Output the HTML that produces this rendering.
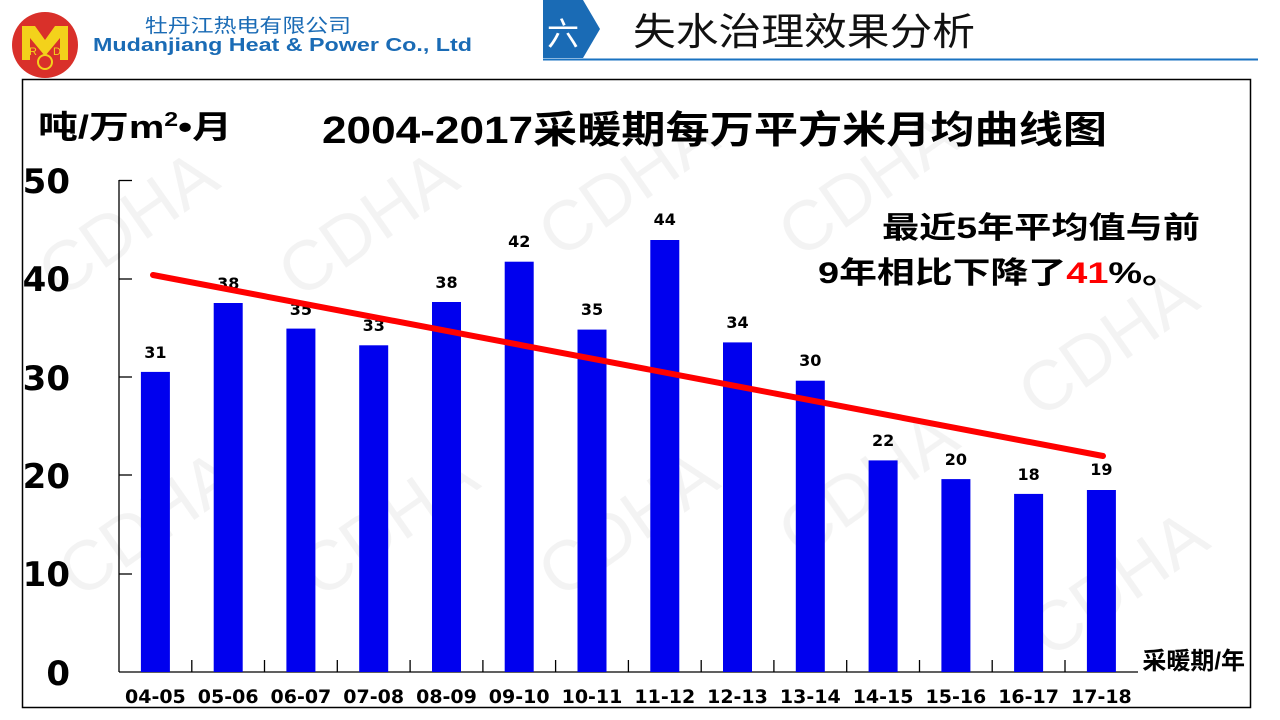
<!DOCTYPE html>
<html><head><meta charset="utf-8"><style>
html,body{margin:0;padding:0;background:#fff;width:1280px;height:720px;overflow:hidden}
svg{display:block}
</style></head><body>
<svg width="1280" height="720" viewBox="0 0 1280 720" xmlns="http://www.w3.org/2000/svg" font-family="'Liberation Sans','Noto Sans CJK SC',sans-serif">
<g fill="#ececec" font-size="70" opacity="0.6">
<text x="60" y="300" transform="rotate(-35 60 300)">CDHA</text>
<text x="300" y="300" transform="rotate(-35 300 300)">CDHA</text>
<text x="560" y="260" transform="rotate(-35 560 260)">CDHA</text>
<text x="800" y="260" transform="rotate(-35 800 260)">CDHA</text>
<text x="1040" y="420" transform="rotate(-35 1040 420)">CDHA</text>
<text x="80" y="600" transform="rotate(-35 80 600)">CDHA</text>
<text x="320" y="600" transform="rotate(-35 320 600)">CDHA</text>
<text x="560" y="600" transform="rotate(-35 560 600)">CDHA</text>
<text x="800" y="560" transform="rotate(-35 800 560)">CDHA</text>
<text x="1050" y="660" transform="rotate(-35 1050 660)">CDHA</text>
</g>
<!-- logo -->
<circle cx="45" cy="45" r="33" fill="#d9302a"/>
<path d="M22 60 L22 26 L35 26 L45 40 L55 26 L68 26 L68 60 L60 60 L60 38 L45 56 L30 38 L30 60 Z" fill="#f3d21b"/>
<text x="29" y="55" font-size="11" fill="#f3d21b">R</text>
<text x="53" y="55" font-size="11" fill="#f3d21b">D</text>
<circle cx="45" cy="62" r="7" fill="none" stroke="#f3d21b" stroke-width="2"/>
<text x="145" y="32" font-size="19" fill="#1a6bb5" textLength="206" lengthAdjust="spacingAndGlyphs" font-family="'Noto Sans CJK SC',sans-serif">牡丹江热电有限公司</text>
<text x="93" y="51" font-size="18" font-weight="bold" fill="#1a6bb5" textLength="379" lengthAdjust="spacingAndGlyphs">Mudanjiang Heat &amp; Power  Co., Ltd</text>
<!-- section header -->
<path d="M543 0 L583 0 L600 29 L583 58 L543 58 Z" fill="#1a6bb5"/>
<text x="547" y="45" font-size="32" fill="#fff" font-family="'Noto Sans CJK SC',sans-serif">六</text>
<line x1="543" y1="59.5" x2="1258" y2="59.5" stroke="#1a72c0" stroke-width="2"/>
<text x="633" y="45" font-size="38" fill="#111" textLength="342" lengthAdjust="spacingAndGlyphs" font-family="'Noto Sans CJK SC',sans-serif">失水治理效果分析</text>
<!-- frame -->
<rect x="22.5" y="79.5" width="1228" height="628" fill="none" stroke="#000" stroke-width="1.5"/>
<text x="38" y="138" font-size="32" font-weight="bold" fill="#000" textLength="194" lengthAdjust="spacingAndGlyphs">吨/万m<tspan font-size="20" dy="-12">2</tspan><tspan dy="12">•月</tspan></text>
<text x="322" y="143" font-size="38" font-weight="bold" fill="#000" textLength="785" lengthAdjust="spacingAndGlyphs">2004-2017采暖期每万平方米月均曲线图</text>
<!-- axes -->
<g stroke="#000" stroke-width="1.3">
<line x1="119" y1="180" x2="119" y2="672"/>
<line x1="119" y1="672" x2="1138" y2="672"/>
<line x1="119" y1="180.5" x2="132" y2="180.5"/>
<line x1="119" y1="279" x2="132" y2="279"/>
<line x1="119" y1="377" x2="132" y2="377"/>
<line x1="119" y1="475" x2="132" y2="475"/>
<line x1="119" y1="574" x2="132" y2="574"/>
</g>
<g font-size="34" font-weight="bold" text-anchor="end" fill="#000" font-family="'DejaVu Sans',sans-serif">
<text x="70" y="193">50</text><text x="70" y="291">40</text><text x="70" y="390">30</text><text x="70" y="488">20</text><text x="70" y="586">10</text><text x="70" y="685">0</text>
</g>
<g fill="#0000ee">
<rect x="140.9" y="371.9" width="29" height="300.1"/>
<rect x="213.7" y="303.0" width="29" height="369.0"/>
<rect x="286.4" y="328.6" width="29" height="343.4"/>
<rect x="359.2" y="345.3" width="29" height="326.7"/>
<rect x="432.0" y="302.0" width="29" height="370.0"/>
<rect x="504.7" y="261.7" width="29" height="410.3"/>
<rect x="577.5" y="329.6" width="29" height="342.4"/>
<rect x="650.3" y="240.0" width="29" height="432.0"/>
<rect x="723.0" y="342.4" width="29" height="329.6"/>
<rect x="795.8" y="380.7" width="29" height="291.3"/>
<rect x="868.6" y="460.4" width="29" height="211.6"/>
<rect x="941.4" y="479.1" width="29" height="192.9"/>
<rect x="1014.1" y="493.9" width="29" height="178.1"/>
<rect x="1086.9" y="490.0" width="29" height="182.0"/>
</g>
<g stroke="#000" stroke-width="1.3">
<line x1="191.8" y1="660" x2="191.8" y2="672"/><line x1="264.5" y1="660" x2="264.5" y2="672"/><line x1="337.3" y1="660" x2="337.3" y2="672"/><line x1="410.1" y1="660" x2="410.1" y2="672"/><line x1="482.9" y1="660" x2="482.9" y2="672"/><line x1="555.6" y1="660" x2="555.6" y2="672"/><line x1="628.4" y1="660" x2="628.4" y2="672"/><line x1="701.2" y1="660" x2="701.2" y2="672"/><line x1="773.9" y1="660" x2="773.9" y2="672"/><line x1="846.7" y1="660" x2="846.7" y2="672"/><line x1="919.5" y1="660" x2="919.5" y2="672"/><line x1="992.2" y1="660" x2="992.2" y2="672"/><line x1="1065.0" y1="660" x2="1065.0" y2="672"/>
</g>
<g font-size="19" font-weight="bold" text-anchor="middle" fill="#000" font-family="'DejaVu Sans',sans-serif">
<text x="155.4" y="703">04-05</text><text x="228.2" y="703">05-06</text><text x="300.9" y="703">06-07</text><text x="373.7" y="703">07-08</text><text x="446.5" y="703">08-09</text><text x="519.2" y="703">09-10</text><text x="592.0" y="703">10-11</text><text x="664.8" y="703">11-12</text><text x="737.5" y="703">12-13</text><text x="810.3" y="703">13-14</text><text x="883.1" y="703">14-15</text><text x="955.9" y="703">15-16</text><text x="1028.6" y="703">16-17</text><text x="1101.4" y="703">17-18</text>
</g>
<g font-size="16" font-weight="bold" text-anchor="middle" fill="#000" font-family="'DejaVu Sans',sans-serif">
<text x="155.4" y="358">31</text><text x="228.2" y="289">38</text><text x="300.9" y="315">35</text><text x="373.7" y="331">33</text><text x="446.5" y="288">38</text><text x="519.2" y="247">42</text><text x="592.0" y="315">35</text><text x="664.8" y="225">44</text><text x="737.5" y="328">34</text><text x="810.3" y="366">30</text><text x="883.1" y="446">22</text><text x="955.9" y="465">20</text><text x="1028.6" y="480">18</text><text x="1101.4" y="475">19</text>
</g>
<line x1="153" y1="275" x2="1103" y2="456" stroke="#ff0000" stroke-width="6" stroke-linecap="round"/>
<text x="1245" y="669" font-size="24" font-weight="bold" text-anchor="end" fill="#000">采暖期/年</text>
<text x="882" y="238" font-size="30" font-weight="bold" fill="#000" textLength="318" lengthAdjust="spacingAndGlyphs">最近5年平均值与前</text>
<text x="818" y="283" font-size="30" font-weight="bold" fill="#000" textLength="362" lengthAdjust="spacingAndGlyphs">9年相比下降了<tspan fill="#ff0000">41</tspan>%。</text>
</svg>
</body></html>
